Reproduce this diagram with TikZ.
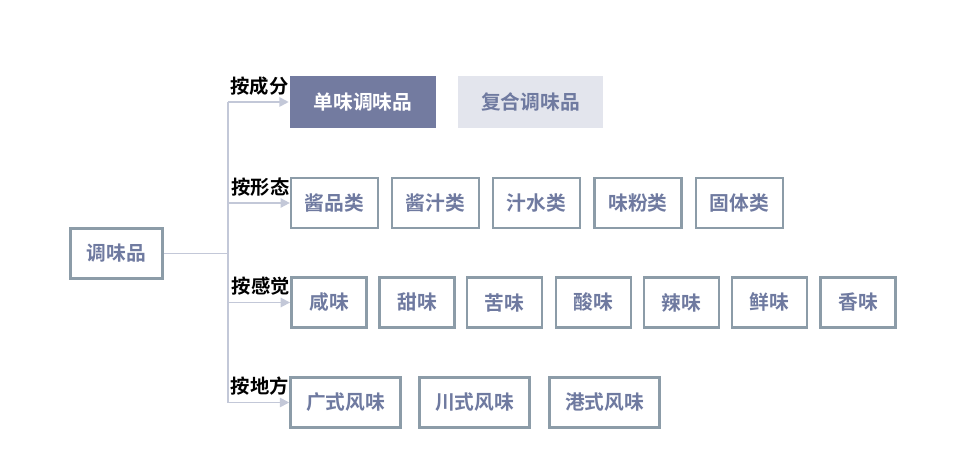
\documentclass[tikz,border=0pt]{standalone}
\usepackage{fontspec}
\setmainfont{Noto Sans CJK SC}[BoldFont={Noto Sans CJK SC Bold}]
\usetikzlibrary{arrows.meta,positioning,calc}
\definecolor{cframe}{HTML}{8C9CA8}
\definecolor{ctext}{HTML}{6F7AA0}
\definecolor{cdark}{HTML}{737BA0}
\definecolor{clight}{HTML}{E3E5ED}
\definecolor{clink}{HTML}{C3C8D8}
\tikzset{
  box/.style    = {draw=cframe, line width=1.9pt, rectangle, fill=white,
                   minimum height=37.5pt, inner sep=0pt, text=ctext,
                   font=\fontsize{14.8}{16}\selectfont\bfseries},
  solidbox/.style = {box, draw=none, minimum height=39pt},
  lbl/.style    = {anchor=east, inner sep=0pt, text=black,
                   font=\fontsize{14.5}{16}\selectfont\bfseries},
  link/.style   = {clink, line width=1.3pt},
  sig/.style    = {link, -{Triangle[length=7pt,width=7pt]}},
}
\begin{document}
\begin{tikzpicture}[x=0.75pt, y=-0.75pt]
\useasboundingbox (0,0) rectangle (969,466);
% ---------------- root ----------------
\node[box, minimum width=69pt] (root) at (116.5,253.5) {调味品};
\coordinate (trunk) at (228,253.5);
% ---------------- by composition ----------------
\node[solidbox, fill=cdark, text=white, minimum width=109.5pt] (dw) at (363,102) {单味调味品};
\node[solidbox, fill=clight, minimum width=109pt] (fh) at (530.5,102) {复合调味品};
% ---------------- by form ----------------
\node[box, minimum width=65pt] (jp) at (334.5,203) {酱品类};
\node[box, minimum width=65pt] (jz) at (435.5,203) {酱汁类};
\node[box, minimum width=65pt] (zs) at (536.5,203) {汁水类};
\node[box, minimum width=65pt] (wf) at (638,203) {味粉类};
\node[box, minimum width=65pt] (gt) at (739.5,203) {固体类};
% ---------------- by taste ----------------
\node[box, minimum width=56.5pt] (xw) at (329,302.5) {咸味};
\node[box, minimum width=56.5pt] (tw) at (417,302.5) {甜味};
\node[box, minimum width=56.5pt] (kw) at (504.5,302.5) {苦味};
\node[box, minimum width=56.5pt] (sw) at (593.5,302.5) {酸味};
\node[box, minimum width=56.5pt] (lw) at (681.5,302.5) {辣味};
\node[box, minimum width=56.5pt] (xa) at (769.5,302.5) {鲜味};
\node[box, minimum width=56.5pt] (xx) at (858,302.5) {香味};
% ---------------- by region ----------------
\node[box, minimum width=82.5pt] (gs) at (345.5,402.5) {广式风味};
\node[box, minimum width=82.5pt] (cs) at (474.5,402.5) {川式风味};
\node[box, minimum width=82.5pt] (hs) at (604.5,402.5) {港式风味};
% ---------------- connectors ----------------
\draw[link] (root.east) -- (trunk);
\draw[link] (trunk |- dw.west) -- (trunk |- gs.west);
\foreach \n in {dw,jp,xw,gs}{
  \draw[sig] (trunk |- \n.west) -- (\n.west);}
% ---------------- branch labels ----------------
\node[lbl] (lcf) at ([yshift=12pt]dw.west) {按成分};
\node[lbl] (lxt) at ([yshift=12pt]jp.west) {按形态};
\node[lbl] (lgj) at ([yshift=12pt]xw.west) {按感觉};
\node[lbl] (ldf) at ([yshift=12pt]gs.west) {按地方};
\end{tikzpicture}
\end{document}
